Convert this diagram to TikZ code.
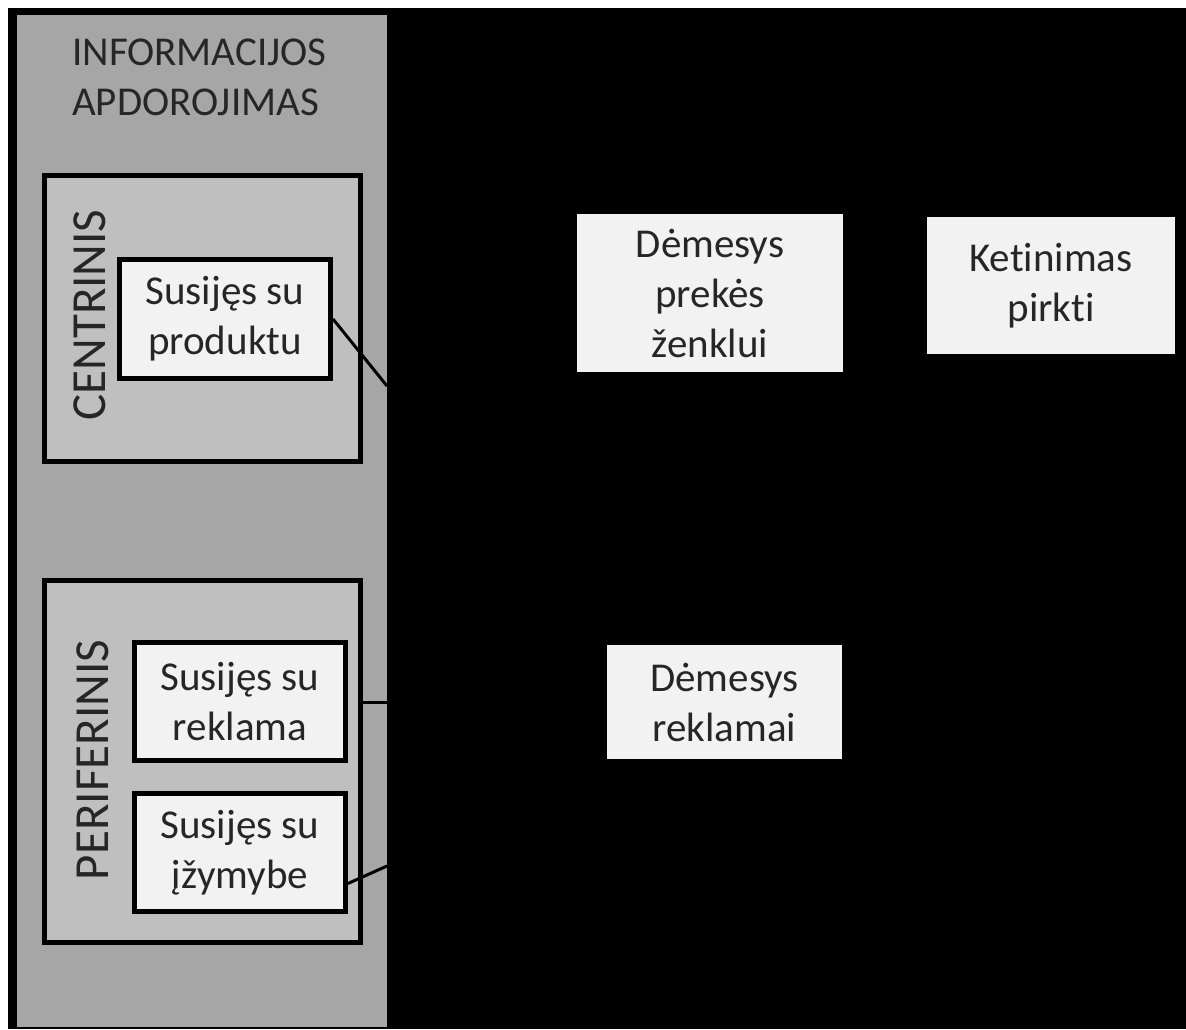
\documentclass[tikz,border=0pt]{standalone}
\usepackage{fontspec}
\setmainfont[Ligatures=NoCommon, RawFeature={-liga;-clig;-calt;-dlig}]{Carlito}
\definecolor{panelgray}{HTML}{A6A6A6}
\definecolor{groupgray}{HTML}{BFBFBF}
\definecolor{boxfill}{HTML}{F2F2F2}
\definecolor{txt}{HTML}{262626}
\begin{document}
\begin{tikzpicture}[x=1pt,y=-1pt,
  every node/.style={inner sep=0pt, font=\fontsize{41}{50}\selectfont, text=txt, align=center},
  grouplabel/.style={rotate=90, font=\fontsize{49}{55}\selectfont},
  groupbox/.style={draw=black, line width=5pt, fill=groupgray},
  innerbox/.style={draw=black, line width=5pt, fill=boxfill},
  plainbox/.style={fill=boxfill},
  link/.style={draw=black, line width=3pt}]
\useasboundingbox (0,0) rectangle (1186,1029);
\fill[white] (0,0) rectangle (1186,1029);
\fill[black] (8,8) rectangle (1186,1029);
\fill[panelgray] (17,15) rectangle (387,1027);
\node[anchor=north west, align=left] (title) at (72,39) {INFORMACIJOS\\APDOROJIMAS};
% central route
\node[groupbox, minimum width=316pt, minimum height=286pt] (centr) at (202.5,318.5) {};
\node[grouplabel] (centrlab) at (90,315) {CENTRINIS};
\node[innerbox, minimum width=211pt, minimum height=119pt] (prod) at (225,319) {Susijęs su\\produktu};
% peripheral route
\node[groupbox, minimum width=316pt, minimum height=362pt] (perif) at (202.5,761.5) {};
\node[grouplabel] (periflab) at (93,760) {PERIFERINIS};
\node[innerbox, minimum width=211pt, minimum height=118pt] (rekl) at (240,701.5) {Susijęs su\\reklama};
\node[innerbox, minimum width=211pt, minimum height=118pt] (izy) at (240,852.5) {Susijęs su\\įžymybe};
% right side boxes
\node[plainbox, minimum width=266pt, minimum height=158pt] (dzenk) at (710,293) {Dėmesys\\prekės\\ženklui};
\node[plainbox, minimum width=248pt, minimum height=137pt] (ketin) at (1051,285.5) {Ketinimas\\pirkti};
\node[plainbox, minimum width=235pt, minimum height=114pt] (drekl) at (724.5,702) {Dėmesys\\reklamai};
% connectors
\coordinate (c1) at (387,386);
\coordinate (c2) at (387,702);
\coordinate (c3) at (387,866);
\draw[link] (prod.east) -- (c1);
\draw[link] (perif.east |- c2) -- (c2);
\draw[link] (izy.-16.6) -- (c3);
\end{tikzpicture}
\end{document}
